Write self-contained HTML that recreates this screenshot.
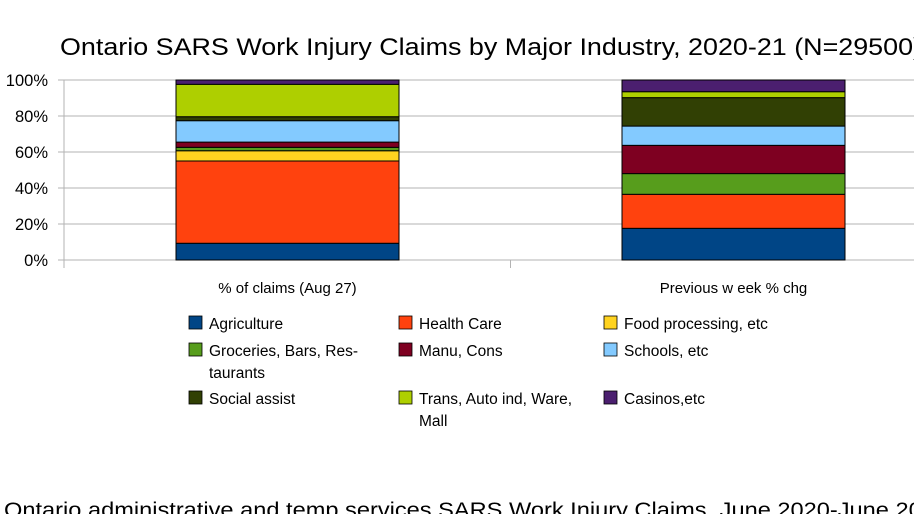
<!DOCTYPE html>
<html><head><meta charset="utf-8"><style>
body{margin:0;background:#fff;width:914px;height:514px;overflow:hidden;font-family:"Liberation Sans",sans-serif}
svg{display:block}
</style></head><body>
<svg id="c" width="914" height="514" xmlns="http://www.w3.org/2000/svg">
<text x="60" y="55" font-size="24" textLength="862" lengthAdjust="spacingAndGlyphs" fill="#000">Ontario SARS Work Injury Claims by Major Industry, 2020-21 (N=29500)</text>
<g id="grid"></g><g id="bars"></g><g id="legend"></g>
<text x="4" y="517" font-size="21" textLength="944" lengthAdjust="spacingAndGlyphs" fill="#000">Ontario administrative and temp services SARS Work Injury Claims, June 2020-June 2021</text>
</svg>
<script>
const categories=["% of claims (Aug 27)","Previous w eek % chg"];
const seriesNames=["Agriculture","Health Care","Food processing, etc","Groceries, Bars, Res-|taurants","Manu, Cons","Schools, etc","Social assist","Trans, Auto ind, Ware,|Mall","Casinos,etc"];
const colors=["#004586","#ff420e","#ffd320","#579d1c","#7e0021","#83caff","#314004","#aecf00","#4b1f6f"];
const claims=[9.3,45.7,5.7,1.9,2.9,11.9,2.2,18,2.4];
const prevWeek=[17.6,18.9,0,11.5,15.7,10.7,15.8,3.3,6.5];
const seriesValues=[claims,prevWeek];
const ticks=["0%","20%","40%","60%","80%","100%"];
const NS="http://www.w3.org/2000/svg";
const x0=64,x1=960,yb=260,yt=80;
const y=v=>yb-(v/100)*(yb-yt);
function mk(t,a,p){const e=document.createElementNS(NS,t);for(const k in a)e.setAttribute(k,a[k]);p.appendChild(e);return e;}
const grid=document.getElementById('grid');
ticks.forEach((t,i)=>{const v=i*20;
 const l=mk('line',{x1:x0-6,x2:x1,y1:y(v),y2:y(v),stroke:'#b3b3b3','stroke-width':1},grid);
 
 
 const tx=mk('text',{x:48,y:y(v)+6,'font-size':16.5,'text-anchor':'end'},grid);tx.textContent=t;
 
 
});
const ax=mk('line',{x1:x0,x2:x0,y1:yt,y2:yb+8,stroke:'#b3b3b3'},grid);


const bandW=446;
const bars=document.getElementById('bars');
categories.forEach((c,ci)=>{
 const cx=287.5+ci*bandW, bw=223, bx=cx-bw/2;
 if(ci>0){const tk=mk('line',{x1:cx-bandW/2,x2:cx-bandW/2,y1:yb,y2:yb+8,stroke:'#b3b3b3'},grid);
  
  }
 let acc=0;
 seriesValues[ci].forEach((v,si)=>{
  const r=mk('rect',{x:bx,y:y(acc+v),width:bw,height:y(acc)-y(acc+v),fill:colors[si],stroke:'#000','stroke-width':1},bars);
  
  
  acc+=v;
 });
 const tl=mk('text',{x:cx,y:293,'font-size':15,'text-anchor':'middle'},bars);tl.textContent=c;
 
 
});
const lg=document.getElementById('legend');
const colX=[189,399,604],rowY=[316,343,391];
seriesNames.forEach((n,i)=>{
 const cx=colX[i%3],ry=rowY[Math.floor(i/3)];
 const g=mk('g',{},lg);
 
 
 mk('rect',{x:cx,y:ry,width:13,height:13,fill:colors[i],stroke:'#000','stroke-width':0.8},g);
 n.split('|').forEach((ln,k)=>{const t=mk('text',{x:cx+20,y:ry+13+k*22,'font-size':15.5},g);t.textContent=ln;});
});
</script>
</body></html>
